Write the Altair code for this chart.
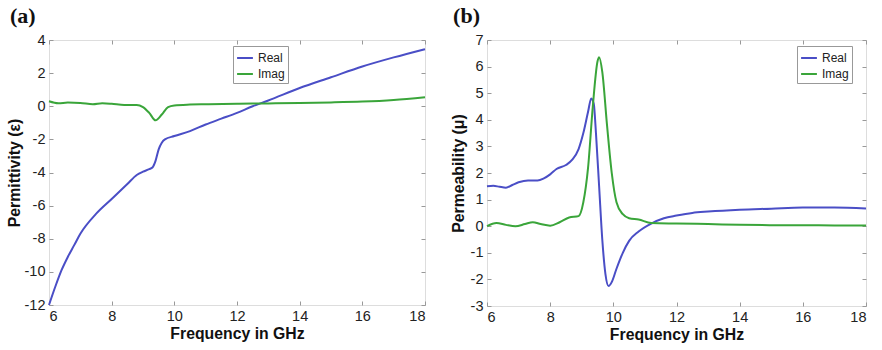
import altair as alt
import pandas as pd

# Panel (a) permittivity
fa_real = [6.0, 6.2, 6.4, 6.6, 6.8, 7.0, 7.5, 8.0, 8.5, 8.8, 9.0, 9.2, 9.3, 9.4, 9.5, 9.6, 9.7, 10.0,
           10.5, 11.0, 11.5, 12.0, 12.5, 13.0, 14.0, 15.0, 16.0, 17.0, 18.0]
va_real = [-12.0, -10.9, -9.9, -9.1, -8.4, -7.7, -6.5, -5.6, -4.7, -4.15, -3.95, -3.8, -3.7, -3.3, -2.6,
           -2.2, -2.0, -1.8, -1.5, -1.1, -0.75, -0.4, 0.0, 0.35, 1.1, 1.75, 2.4, 2.95, 3.45]
fa_imag = [6.0, 6.3, 6.6, 7.0, 7.4, 7.7, 8.0, 8.4, 8.8, 9.0, 9.2, 9.4, 9.6, 9.8, 10.0, 10.5, 11.0,
           12.0, 13.0, 14.0, 15.0, 16.0, 17.0, 18.0]
va_imag = [0.3, 0.18, 0.22, 0.2, 0.12, 0.18, 0.15, 0.08, 0.08, -0.05, -0.4, -0.85, -0.5, -0.05, 0.05,
           0.1, 0.12, 0.15, 0.17, 0.2, 0.23, 0.28, 0.38, 0.55]

# Panel (b) permeability
fb_real = [6.0, 6.2, 6.4, 6.6, 6.8, 7.0, 7.3, 7.6, 7.8, 8.0, 8.2, 8.5, 8.7, 8.9, 9.05, 9.2, 9.3, 9.38,
           9.45, 9.55, 9.65, 9.75, 9.85, 9.95, 10.1, 10.3, 10.5, 10.8, 11.2, 11.6, 12.0, 12.5, 13.0,
           14.0, 15.0, 16.0, 17.0, 18.0]
vb_real = [1.5, 1.52, 1.48, 1.45, 1.55, 1.65, 1.72, 1.72, 1.8, 1.95, 2.15, 2.3, 2.5, 2.9, 3.5, 4.3, 4.8,
           4.6, 3.5, 1.5, -0.5, -1.8, -2.25, -2.1, -1.6, -1.0, -0.55, -0.2, 0.1, 0.3, 0.4, 0.5, 0.55,
           0.62, 0.66, 0.7, 0.7, 0.67]
fb_imag = [6.0, 6.3, 6.6, 6.9, 7.2, 7.45, 7.7, 8.0, 8.3, 8.6, 8.9, 9.05, 9.2, 9.35, 9.5, 9.55, 9.65,
           9.8, 9.95, 10.1, 10.3, 10.5, 10.8, 11.2, 12.0, 13.0, 14.0, 15.0, 16.0, 17.0, 18.0]
vb_imag = [0.0, 0.12, 0.05, 0.0, 0.08, 0.15, 0.08, 0.02, 0.15, 0.33, 0.38, 0.9, 2.2, 4.5, 6.2, 6.35,
           5.8, 3.8, 2.0, 0.9, 0.45, 0.3, 0.25, 0.12, 0.1, 0.08, 0.05, 0.04, 0.04, 0.03, 0.03]

series_names = ["Real", "Imag"]
colors = ["#4a4ec6", "#3aa53a"]
x_ticks = [6, 8, 10, 12, 14, 16, 18]
ya_ticks = [-12, -10, -8, -6, -4, -2, 0, 2, 4]
yb_ticks = [-3, -2, -1, 0, 1, 2, 3, 4, 5, 6, 7]


def frame(f_r, v_r, f_i, v_i):
    rows = [{"f": f, "v": v, "s": "Real", "o": i} for i, (f, v) in enumerate(zip(f_r, v_r))]
    rows += [{"f": f, "v": v, "s": "Imag", "o": i} for i, (f, v) in enumerate(zip(f_i, v_i))]
    return pd.DataFrame(rows)


FONT = "Liberation Sans"


def panel(df, ytitle, yticks, ydom, title, w, h, lx, ly, ytp, toff, tdx):
    base_axis = dict(labelFont=FONT, labelFontSize=14.5, labelColor="#222", titleFont=FONT,
                     titleFontSize=15.8, titleFontWeight="bold", titleColor="#111", domain=False,
                     grid=False, tickColor="#999", tickSize=4, offset=-4)
    x = alt.X("f:Q", scale=alt.Scale(domain=[6, 18], nice=False),
              axis=alt.Axis(values=x_ticks, title="Frequency in GHz", labelPadding=4,
                            titlePadding=4, **base_axis))
    y = alt.Y("v:Q", scale=alt.Scale(domain=ydom, nice=False),
              axis=alt.Axis(values=yticks, title=ytitle, labelPadding=4, titlePadding=ytp,
                            labelExpr="replace(datum.label, '−', '-')", **base_axis))
    lines = alt.Chart(df).mark_line(strokeWidth=2, interpolate="monotone").encode(
        x=x, y=y, order="o:Q",
        color=alt.Color("s:N", scale=alt.Scale(domain=series_names, range=colors),
                        legend=alt.Legend(title=None, orient="none", legendX=lx, legendY=ly,
                                          strokeColor="#999", fillColor="white", padding=3,
                                          symbolType="stroke", symbolStrokeWidth=2, symbolSize=250,
                                          labelFont=FONT, labelFontSize=12, labelColor="#222",
                                          rowPadding=1, symbolOffset=0)))
    side_axis = dict(labels=False, title=None, domain=False, grid=False, tickColor="#999",
                     tickSize=4, offset=-4)
    ticks = alt.Chart(df).mark_point(opacity=0).encode(
        x=alt.X("f:Q", scale=alt.Scale(domain=[6, 18], nice=False),
                axis=alt.Axis(values=x_ticks, orient="top", **side_axis)),
        y=alt.Y("v:Q", scale=alt.Scale(domain=ydom, nice=False),
                axis=alt.Axis(values=yticks, orient="right", **side_axis)))
    return alt.layer(lines, ticks).resolve_axis(x="independent", y="independent").properties(
        width=w, height=h,
        title=alt.TitleParams(title, anchor="start", frame="bounds", font="Liberation Serif",
                              fontSize=22, fontWeight="bold", color="#111", offset=toff, dx=tdx))


pa = panel(frame(fa_real, va_real, fa_imag, va_imag), "Permittivity (ε)", ya_ticks, [-12, 4], "(a)",
           376, 265, 184, 6, 2, 4, 4)
pb = panel(frame(fb_real, vb_real, fb_imag, vb_imag), "Permeability (μ)", yb_ticks, [-3, 7], "(b)",
           379, 266, 310, 6, 4, 4, 3)

chart = alt.hconcat(pa, pb, spacing=19).resolve_scale(color="independent").resolve_legend(
    color="independent").properties(padding={"left": 5, "top": 4, "right": 4, "bottom": 2}).configure_view(
    stroke="#aaa", strokeWidth=1).configure(background="white")

chart.save("out.html", embed_options={"renderer": "svg", "actions": False})
